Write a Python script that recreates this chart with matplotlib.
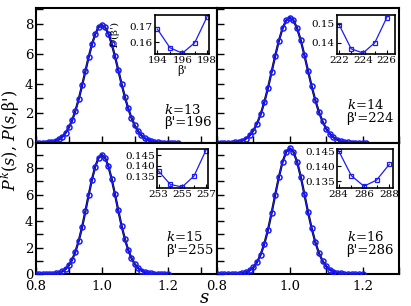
import numpy as np
import matplotlib
matplotlib.use("Agg")
import matplotlib.pyplot as plt
from matplotlib.ticker import MultipleLocator, FixedLocator, FormatStrFormatter

plt.rcParams['font.family'] = ['DejaVu Serif']
plt.rcParams['mathtext.fontset'] = 'dejavuserif'

# spacing distributions, s = 0.80, 0.81, ...
p13 = [0.00, 0.00, 0.01, 0.02, 0.04, 0.08, 0.14, 0.25, 0.42, 0.68, 1.05, 1.54, 2.19, 2.97,
       3.88, 4.83, 5.79, 6.65, 7.34, 7.80, 7.95, 7.80, 7.36, 6.68, 5.84, 4.91, 3.98, 3.11,
       2.34, 1.70, 1.19, 0.80, 0.52, 0.33, 0.20, 0.12, 0.07, 0.04, 0.02, 0.01, 0.01, 0.00,
       0.00, 0.00]
p14 = [0.00, 0.00, 0.00, 0.01, 0.02, 0.04, 0.08, 0.16, 0.30, 0.51, 0.84, 1.31, 1.94, 2.75,
       3.71, 4.79, 5.88, 6.89, 7.72, 8.26, 8.45, 8.26, 7.74, 6.93, 5.93, 4.87, 3.83, 2.89,
       2.09, 1.45, 0.96, 0.61, 0.38, 0.22, 0.12, 0.07, 0.04, 0.02, 0.01, 0.00, 0.00, 0.00]
p15 = [0.00, 0.00, 0.00, 0.00, 0.01, 0.02, 0.05, 0.10, 0.20, 0.37, 0.65, 1.08, 1.70, 2.52,
       3.54, 4.73, 5.97, 7.14, 8.12, 8.77, 9.00, 8.77, 8.14, 7.17, 6.02, 4.80, 3.65, 2.65,
       1.83, 1.20, 0.75, 0.45, 0.26, 0.14, 0.07, 0.04, 0.02, 0.01, 0.00, 0.00, 0.00]
p16 = [0.00, 0.00, 0.00, 0.00, 0.01, 0.01, 0.03, 0.07, 0.13, 0.27, 0.50, 0.89, 1.47, 2.28,
       3.33, 4.61, 5.99, 7.33, 8.46, 9.23, 9.50, 9.23, 8.48, 7.36, 6.04, 4.69, 3.46, 2.41,
       1.58, 0.99, 0.58, 0.33, 0.17, 0.09, 0.05, 0.02, 0.01, 0.00, 0.00, 0.00, 0.00]

# D(beta') for each k
beta13 = [194, 195, 196, 197, 198]
d13 = [0.1685, 0.1562, 0.1525, 0.1595, 0.1769]
beta14 = [222, 223, 224, 225, 226]
d14 = [0.1491, 0.1367, 0.1345, 0.1400, 0.1531]
beta15 = [253, 254, 255, 256, 257]
d15 = [0.1374, 0.1310, 0.1298, 0.1350, 0.1472]
beta16 = [284, 285, 286, 287, 288]
d16 = [0.1451, 0.1369, 0.1334, 0.1354, 0.1406]

ks = [13, 14, 15, 16]
best_beta = [196, 224, 255, 286]

blue = '#1a1aff'

fig = plt.figure(figsize=(4.11, 3.06), dpi=100)

W, H = 411.0, 306.0
def fax(x0, y0, x1, y1):
    return fig.add_axes([x0 / W, 1 - y1 / H, (x1 - x0) / W, (y1 - y0) / H])

main_boxes = [(36, 8, 217, 143), (217, 8, 399, 143), (36, 143, 217, 274), (217, 143, 399, 274)]
inset_boxes = [(155, 15, 209, 54), (337, 15, 395, 54), (157, 149, 208, 188), (337, 149, 393, 188)]
xlims = [(0.8, 1.35), (0.8, 1.3), (0.8, 1.35), (0.8, 1.3)]
ylims = [(0, 9.1), (0, 9.1), (0, 9.9), (0, 9.9)]
text_pos = [(0.708, 0.245, 0.155), (0.712, 0.28, 0.18), (0.72, 0.28, 0.18), (0.712, 0.28, 0.18)]

curves = [p13, p14, p15, p16]
ins_x = [beta13, beta14, beta15, beta16]
ins_y = [d13, d14, d15, d16]
ins_xlim = [(193.8, 198.15), (221.8, 226.7), (252.87, 257.19), (283.87, 288.3)]
ins_ylim = [(0.152, 0.178), (0.134, 0.1545), (0.1293, 0.148), (0.1328, 0.1457)]
ins_yticks = [[0.16, 0.17], [0.14, 0.15], [0.135, 0.140, 0.145], [0.135, 0.140, 0.145]]

for i in range(4):
    ax = fax(*main_boxes[i])
    p = curves[i]
    s = np.round(0.80 + 0.01 * np.arange(len(p)), 2)
    ax.plot(s, p, color='black', lw=1.6, zorder=2)
    ax.plot(s, p, color=blue, lw=0.9, marker='o', ms=3.6, mfc='none', mec=blue, mew=1.1, zorder=3)
    ax.set_xlim(*xlims[i])
    ax.set_ylim(*ylims[i])
    ax.xaxis.set_major_locator(MultipleLocator(0.2))
    ax.xaxis.set_minor_locator(MultipleLocator(0.1))
    ax.xaxis.set_major_formatter(FormatStrFormatter('%.1f'))
    ax.yaxis.set_major_locator(MultipleLocator(2))
    ax.yaxis.set_minor_locator(MultipleLocator(1))
    ax.tick_params(which='both', direction='in', labelsize=9.5, width=1.0, length=5)
    ax.tick_params(axis='y', pad=2)
    ax.tick_params(axis='x', pad=4.5)
    for sp in ax.spines.values():
        sp.set_linewidth(1.5)
    if i < 2:
        ax.tick_params(labelbottom=False)
    if i % 2 == 1:
        ax.tick_params(labelleft=False)
    tx, ty1, ty2 = text_pos[i]
    ax.text(tx, ty1, '$k$=%d' % ks[i], transform=ax.transAxes, fontsize=9.5, va='center')
    ax.text(tx, ty2, "β'=%d" % best_beta[i], transform=ax.transAxes, fontsize=9.5, va='center')

    ia = fax(*inset_boxes[i])
    ia.plot(ins_x[i], ins_y[i], color=blue, lw=0.9, marker='s', ms=3.2, mfc='none', mec=blue, mew=0.9)
    ia.set_xlim(*ins_xlim[i])
    ia.set_ylim(*ins_ylim[i])
    bx = ins_x[i]
    ia.xaxis.set_major_locator(FixedLocator([bx[0], bx[2], bx[4]]))
    ia.xaxis.set_minor_locator(FixedLocator(bx))
    ia.yaxis.set_major_locator(FixedLocator(ins_yticks[i]))
    ia.yaxis.set_major_formatter(FormatStrFormatter('%.2f' if i < 2 else '%.3f'))
    ia.tick_params(which='both', direction='in', labelsize=7.5, width=0.8, pad=1.5)
    ia.tick_params(which='major', length=3)
    ia.tick_params(which='minor', length=2)
    for sp in ia.spines.values():
        sp.set_linewidth(1.2)
    if i == 0:
        ia.set_xlabel("β'", fontsize=8, labelpad=0)
        ia.set_ylabel("$D$(β')", fontsize=7.5)
        ia.yaxis.set_label_coords(-0.62, 0.5)

fig.text(0.026, 0.54, "$P^k(s)$, $P(s$,β')", rotation=90, fontsize=11.5, ha='center', va='center')
fig.text(0.497, 0.025, '$s$', fontsize=13, ha='center', va='center')

fig.savefig('out.png', dpi=100)
